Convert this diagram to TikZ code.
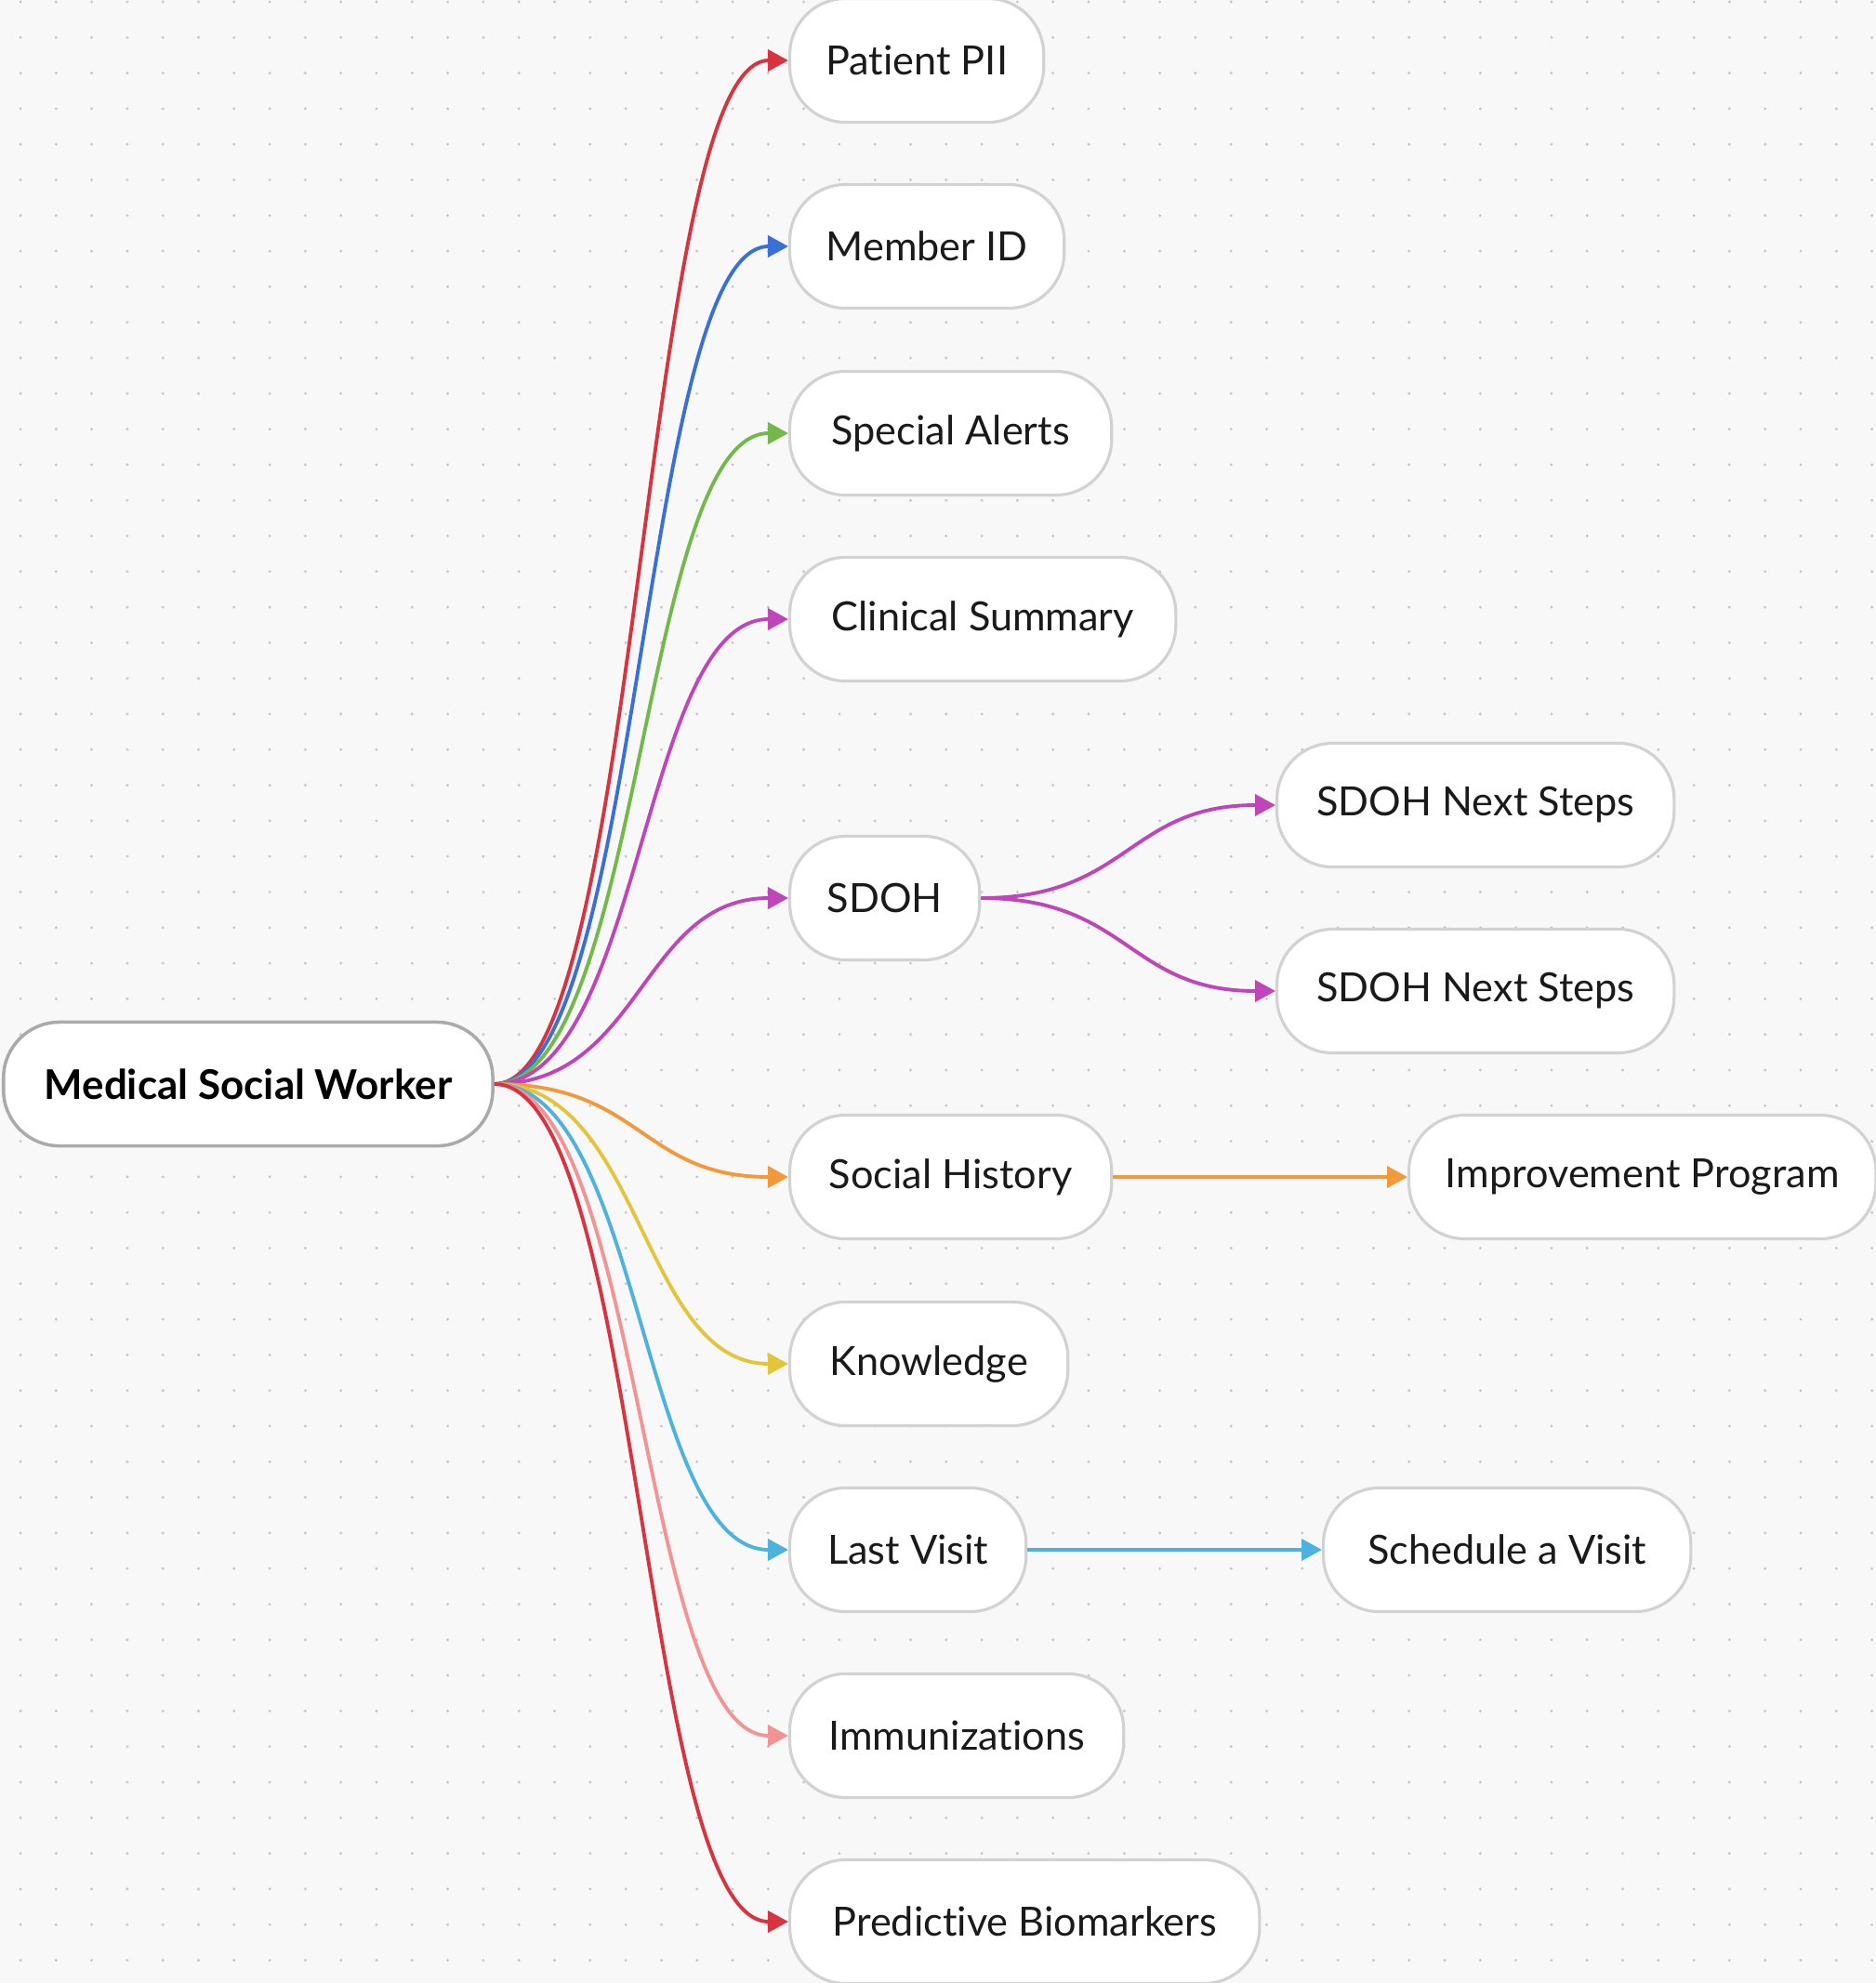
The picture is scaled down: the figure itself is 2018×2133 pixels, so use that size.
\documentclass[tikz,border=0pt]{standalone}
\usepackage{fontspec}
\setmainfont[Ligatures=NoCommon]{Lato}
\usepackage{xcolor}
\usepackage{tikz}
\usetikzlibrary{arrows.meta}

\definecolor{canvas}{HTML}{F8F8F8}
\definecolor{dotgray}{HTML}{C4C4C4}
\definecolor{leafline}{HTML}{D2D2D2}
\definecolor{rootline}{HTML}{AAAAAA}
\definecolor{ink}{HTML}{1A1A1A}
\definecolor{mapred}{HTML}{D8343F}
\definecolor{mapblue}{HTML}{3A6FD8}
\definecolor{mapgreen}{HTML}{72B84B}
\definecolor{mapmagenta}{HTML}{BF46B8}
\definecolor{maporange}{HTML}{F4993A}
\definecolor{mapyellow}{HTML}{E4C43A}
\definecolor{mapcyan}{HTML}{4DB2DD}
\definecolor{mappink}{HTML}{F19494}

\begin{document}
\begin{tikzpicture}[x=0.01cm, y=-0.01cm,
    leaf/.style={draw=leafline, line width=0.9pt, fill=white, rounded corners=0.6cm,
      minimum height=1.33cm, inner sep=0pt, anchor=west, text=ink,
      font=\fontsize{12.3}{15}\selectfont},
    rootbox/.style={leaf, draw=rootline, line width=1pt, text=black,
      font=\fontsize{12.5}{15}\selectfont\bfseries},
    link/.style={line width=1.1pt, -{Triangle[length=2.2mm, width=2.3mm]}}]
    \fill[canvas] (0,0) rectangle (2018,2133);
    \useasboundingbox (0,0) rectangle (2018,2133);
    \foreach \i in {0,...,52}
      \foreach \j in {0,...,55}
        \fill[dotgray] (22+38.3*\i, 2+38.3*\j) circle[radius=0.45pt];

    \node[rootbox, minimum width=5.26cm] (root) at (2,1166) {Medical Social Worker};
    \node[leaf, minimum width=2.73cm] (pii) at (848,65) {Patient PII};
    \node[leaf, minimum width=2.95cm] (member) at (848,265) {Member ID};
    \node[leaf, minimum width=3.46cm] (alerts) at (848,466) {Special Alerts};
    \node[leaf, minimum width=4.15cm] (clinical) at (848,666) {Clinical Summary};
    \node[leaf, minimum width=2.04cm] (sdoh) at (848,966) {SDOH};
    \node[leaf, minimum width=4.27cm] (nextA) at (1372,866) {SDOH Next Steps};
    \node[leaf, minimum width=4.27cm] (nextB) at (1372,1066) {SDOH Next Steps};
    \node[leaf, minimum width=3.46cm] (social) at (848,1266) {Social History};
    \node[leaf, minimum width=5.02cm] (program) at (1514,1266) {Improvement Program};
    \node[leaf, minimum width=2.99cm] (knowledge) at (848,1467) {Knowledge};
    \node[leaf, minimum width=2.54cm] (lastvisit) at (848,1667) {Last Visit};
    \node[leaf, minimum width=3.95cm] (schedule) at (1422,1667) {Schedule a Visit};
    \node[leaf, minimum width=3.59cm] (immun) at (848,1867) {Immunizations};
    \node[leaf, minimum width=5.05cm] (markers) at (848,2067) {Predictive Biomarkers};

    \draw[link, mapred] (root.east) .. controls +(159,0) and +(-159,0) .. (pii.west);
    \draw[link, mapblue] (root.east) .. controls +(159,0) and +(-159,0) .. (member.west);
    \draw[link, mapgreen] (root.east) .. controls +(159,0) and +(-159,0) .. (alerts.west);
    \draw[link, mapmagenta] (root.east) .. controls +(159,0) and +(-159,0) .. (clinical.west);
    \draw[link, mapmagenta] (root.east) .. controls +(159,0) and +(-159,0) .. (sdoh.west);
    \draw[link, maporange] (root.east) .. controls +(159,0) and +(-159,0) .. (social.west);
    \draw[link, mapyellow] (root.east) .. controls +(159,0) and +(-159,0) .. (knowledge.west);
    \draw[link, mapcyan] (root.east) .. controls +(159,0) and +(-159,0) .. (lastvisit.west);
    \draw[link, mappink] (root.east) .. controls +(159,0) and +(-159,0) .. (immun.west);
    \draw[link, mapred] (root.east) .. controls +(159,0) and +(-159,0) .. (markers.west);

    \draw[link, mapmagenta] (sdoh.east) .. controls +(159,0) and +(-159,0) .. (nextA.west);
    \draw[link, mapmagenta] (sdoh.east) .. controls +(159,0) and +(-159,0) .. (nextB.west);
    \draw[link, maporange] (social) -- (program);
    \draw[link, mapcyan] (lastvisit) -- (schedule);
\end{tikzpicture}
\end{document}
